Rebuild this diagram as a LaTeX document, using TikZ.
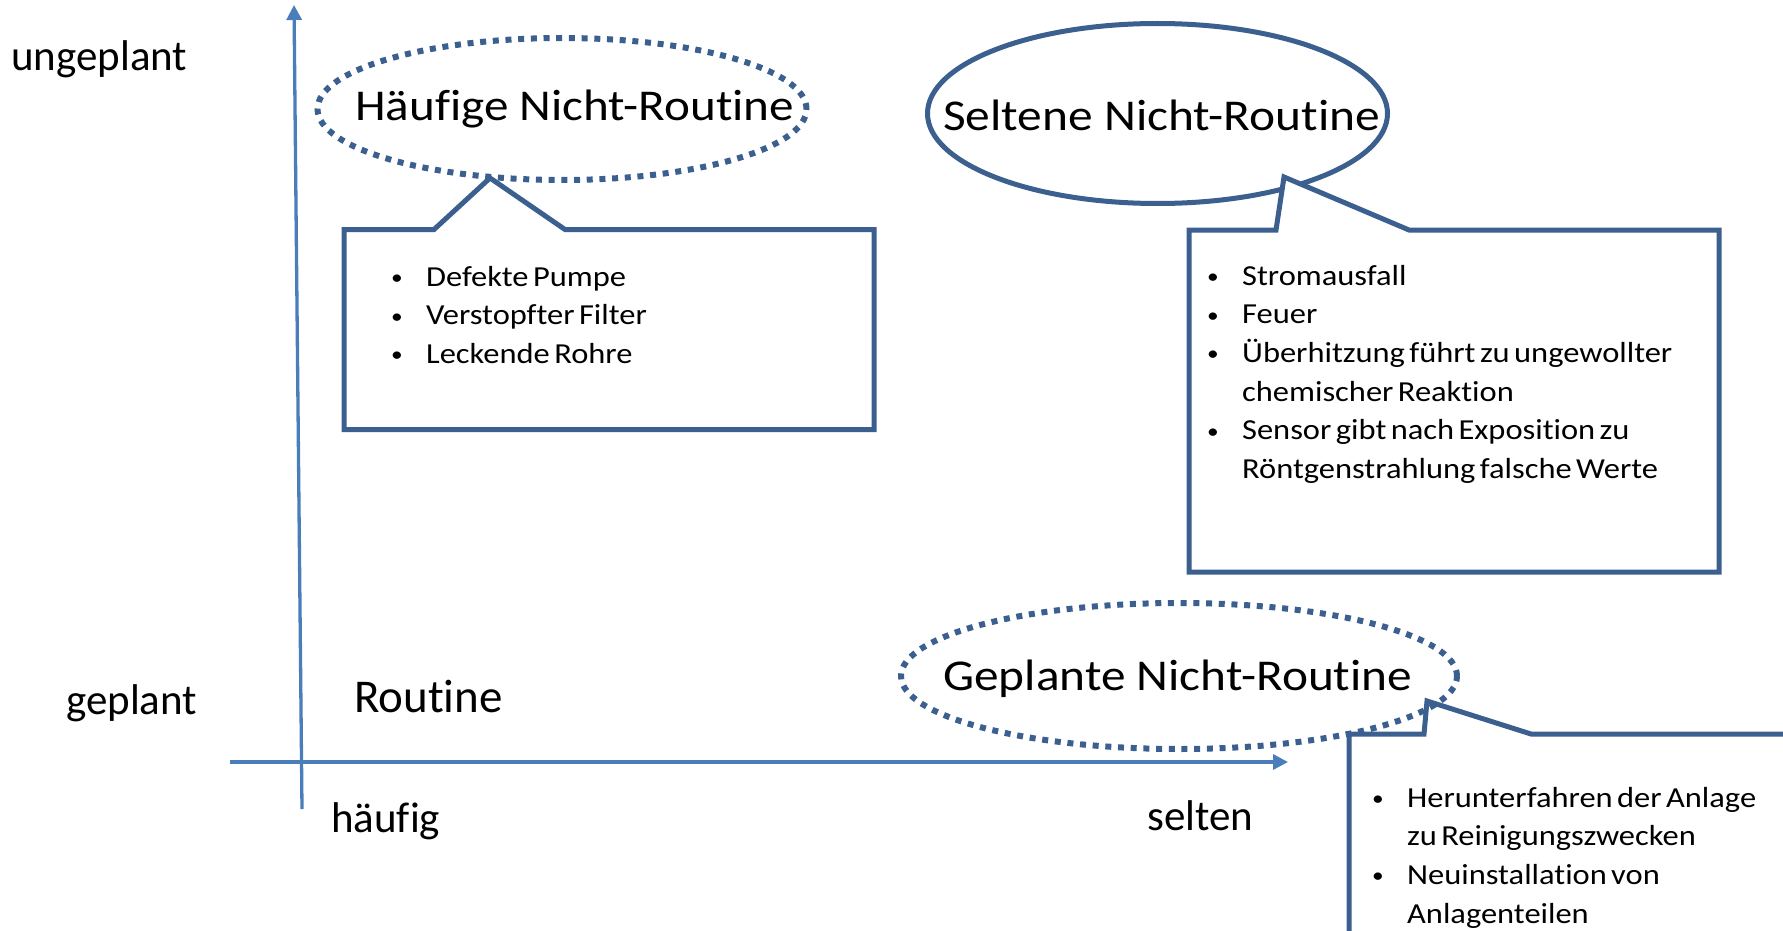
\documentclass[tikz,border=0pt]{standalone}
\usepackage{fontspec}
\setmainfont{Carlito}[RawFeature={-liga;-calt;-clig;-dlig;-rlig}]
\newfontfamily\listfont{Carlito}[RawFeature={-liga;-calt;-clig;-dlig;-rlig},WordSpace=0.6]
\usetikzlibrary{arrows.meta,shapes.geometric}
\definecolor{shp}{HTML}{3B5F8E}
\definecolor{axc}{HTML}{4A7EBB}
\newcommand\bul{\makebox[31.2pt][l]{\raisebox{1.5pt}{\scalebox{0.72}{\textbullet}}}}
\newcommand\ind{\hspace*{31.2pt}}
\begin{document}
\begin{tikzpicture}[x=1pt,y=-1pt,
  axis/.style={draw=axc, line width=3.3pt, -{Triangle[length=15pt,width=15pt]}},
  callout/.style={draw=shp, line width=5pt, line join=miter, fill=white},
  ell/.style={ellipse, draw=shp, inner sep=0pt},
  dots/.style={line width=6pt, dash pattern=on 6pt off 6.7pt},
  lbl/.style={inner sep=0pt, anchor=base west},
  title/.style={lbl, font=\fontsize{44}{50}\selectfont},
  axlbl/.style={lbl, font=\fontsize{43}{50}\selectfont},
  listtext/.style={lbl, font=\listfont\fontsize{29}{38.7}\selectfont}]
\useasboundingbox (0,0) rectangle (1783,931);
\clip (0,0) rectangle (1783,931);

% axes
\coordinate (yb) at (302,809);
\coordinate (yt) at (294,5);
\coordinate (xl) at (230,762);
\coordinate (xr) at (1288,762);
\draw[axis] (yb) -- (yt);
\draw[axis] (xl) -- (xr);

% axis labels
\node[axlbl] (ung) at (11,71) {ungeplant};
\node[axlbl] (gep) at (66,714) {geplant};
\node[lbl, font=\fontsize{47}{52}\selectfont] (rout) at (354,712) {Routine};
\node[axlbl] (hauf) at (331,832) {häufig};
\node[lbl, font=\fontsize{43}{50}\selectfont] (selt) at (1147,830) {selten};

% callout 1
\coordinate (tip1) at (490,178);
\draw[callout] (344,229.5) -- (434,229.5) -- (tip1) -- (565,229.5) -- (874,229.5) -- (874,429.5) -- (344,429.5) -- cycle;
\node[ell, dots, minimum width=489pt, minimum height=142pt] (e1) at (562,109) {};
\node[title] (t1) at (355,121) {\resizebox{439pt}{\height}{Häufige Nicht-Routine}};
\node[listtext] (l1) at (391,286) {\scalebox{1.12}[1]{\begin{tabular}[t]{@{}l@{}}
\bul Defekte Pumpe\\
\bul Verstopfter Filter\\
\bul Leckende Rohre
\end{tabular}}};

% ellipse 2 and callout 2
\node[ell, line width=5pt, minimum width=460pt, minimum height=180pt] (e2) at (1157.5,113.5) {};
\coordinate (tip2) at (1284,177);
\draw[callout] (1189,230) -- (1276,230) -- (tip2) -- (1409,230) -- (1719,230) -- (1719,572) -- (1189,572) -- cycle;
\node[title] (t2) at (943,131) {\resizebox{437pt}{\height}{Seltene Nicht-Routine}};
\node[listtext] (l2) at (1207,285) {\scalebox{1.12}[1]{\begin{tabular}[t]{@{}l@{}}
\bul Stromausfall\\
\bul Feuer\\
\bul Überhitzung führt zu ungewollter\\
\ind chemischer Reaktion\\
\bul Sensor gibt nach Exposition zu\\
\ind Röntgenstrahlung falsche Werte
\end{tabular}}};

% callout 3 and ellipse 3
\coordinate (tip3) at (1427,701);
\draw[callout] (1349,734) -- (1424,734) -- (tip3) -- (1531,734) -- (1800,734) -- (1800,950) -- (1349,950) -- cycle;
\node[ell, dots, minimum width=556pt, minimum height=146pt] (e3) at (1179,676) {};
\node[title] (t3) at (943,690) {\resizebox{469pt}{\height}{Geplante Nicht-Routine}};
\node[listtext] (l3) at (1372,807) {\scalebox{1.12}[1]{\begin{tabular}[t]{@{}l@{}}
\bul Herunterfahren der Anlage\\
\ind zu Reinigungszwecken\\
\bul Neuinstallation von\\
\ind Anlagenteilen
\end{tabular}}};
\end{tikzpicture}
\end{document}
